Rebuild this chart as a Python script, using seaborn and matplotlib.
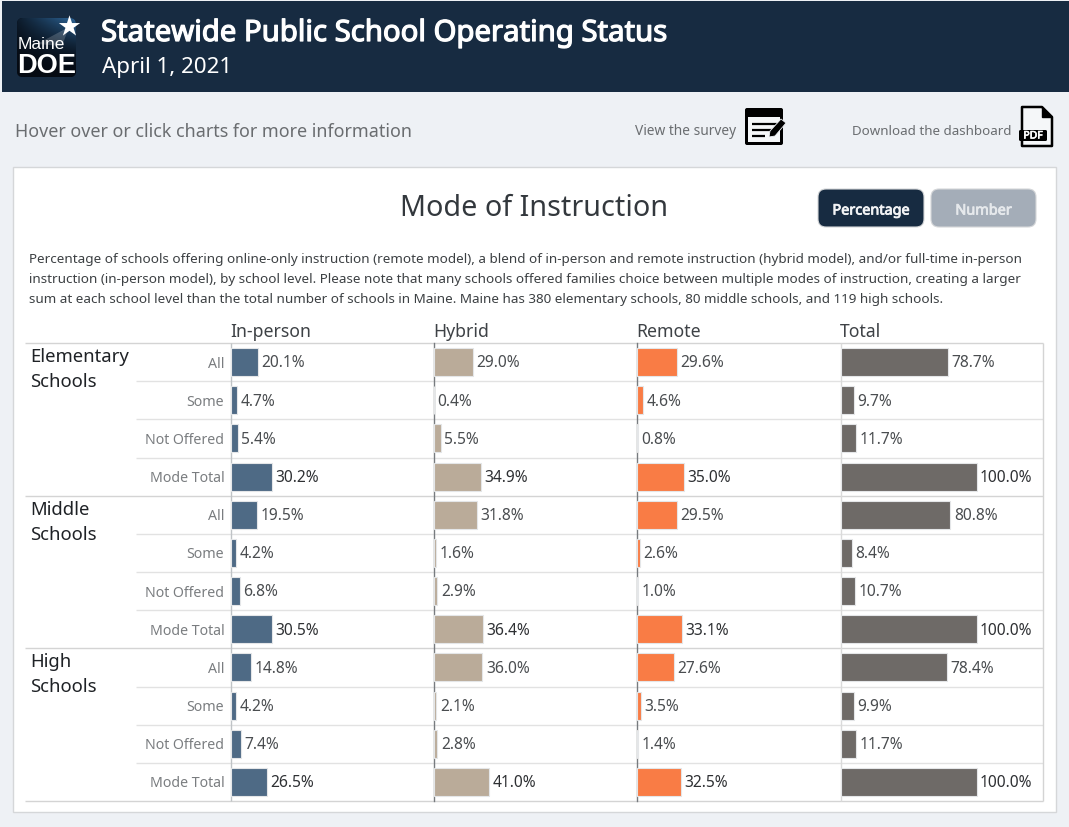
import numpy as np
import pandas as pd
import matplotlib
matplotlib.use("Agg")
import matplotlib.pyplot as plt
from matplotlib.patches import FancyBboxPatch, Rectangle, Polygon
import matplotlib.patheffects as pe
import seaborn as sns

# Data
schools = ["Elementary Schools", "Middle Schools", "High Schools"]
statuses = ["All", "Some", "Not Offered", "Mode Total"]
in_person = [20.1, 4.7, 5.4, 30.2, 19.5, 4.2, 6.8, 30.5, 14.8, 4.2, 7.4, 26.5]
hybrid = [29.0, 0.4, 5.5, 34.9, 31.8, 1.6, 2.9, 36.4, 36.0, 2.1, 2.8, 41.0]
remote = [29.6, 4.6, 0.8, 35.0, 29.5, 2.6, 1.0, 33.1, 27.6, 3.5, 1.4, 32.5]
total = [78.7, 9.7, 11.7, 100.0, 80.8, 8.4, 10.7, 100.0, 78.4, 9.9, 11.7, 100.0]
modes = ["In-person", "Hybrid", "Remote", "Total"]
mode_values = [in_person, hybrid, remote, total]
mode_colors = ["#4E6A85", "#BAAB99", "#F97C45", "#6E6A67"]

W, H = 1069, 827
FONT = "Noto Sans"

sns.set_theme(style="white")
plt.rcParams["font.family"] = [FONT, "DejaVu Sans"]

rows = [f"{s}|{t}" for s in schools for t in statuses]
df = pd.DataFrame({
    "row": rows * 4,
    "mode": np.repeat(modes, 12),
    "value": sum(mode_values, []),
})

fig = plt.figure(figsize=(W / 100, H / 100), dpi=100, facecolor="#EEF1F5")

# Fond en coordonnees pixels
bg = fig.add_axes([0, 0, 1, 1], zorder=0)
bg.set_xlim(0, W)
bg.set_ylim(H, 0)
bg.axis("off")


def rrect(x0, y0, x1, y1, r, **kw):
    p = FancyBboxPatch((x0 + r, y0 + r), x1 - x0 - 2 * r, y1 - y0 - 2 * r,
                       boxstyle=f"round,pad={r},rounding_size={r}", **kw)
    bg.add_patch(p)
    return p


def line(x0, x1, y0, y1, color="#D4D4D4", lw=1.0, z=2):
    bg.plot([x0, x1], [y0, y1], color=color, lw=lw, zorder=z, solid_capstyle="butt")


def bold(t, w=0.7):
    # la police installee n'a pas de vraie graisse ici
    t.set_path_effects([pe.withStroke(linewidth=w, foreground=t.get_color())])
    return t


# Bandeau
bg.add_patch(Rectangle((2, 1), W - 2, 90.5, fc="#172B41", ec="none"))
bold(bg.text(101, 33.5, "Statewide Public School Operating Status", color="white", fontsize=21.1,
             va="center", ha="left"), 0.9)
bg.text(102, 67, "April 1, 2021", color="white", fontsize=16.1, va="center", ha="left")

# Logo
clip = rrect(17, 18, 76, 77, 6, fc="#050A12", ec="none")
grad = np.linspace(0, 1, 60).reshape(-1, 1)[::-1] ** 2
img = bg.imshow(grad @ np.ones((1, 60)) * np.linspace(0.2, 1, 60), extent=(17, 76, 77, 18),
                cmap=matplotlib.colors.LinearSegmentedColormap.from_list("l", ["#050A12", "#2D6496"]),
                aspect="auto", zorder=1.5)
img.set_clip_path(clip)
bg.add_patch(Polygon([[69, 27], [37, 44], [62, 46]], fc="white", alpha=0.18, ec="none", zorder=1.6))
bg.scatter([69], [26], marker="*", s=260, color="white", linewidths=0, zorder=3)
bg.text(18, 44.5, "Maine", color="white", fontsize=12.5, va="center", ha="left", family="Liberation Sans", zorder=3)
bg.text(17.5, 66, "DOE", color="white", fontsize=19.5, fontweight="bold", va="center", ha="left",
        family="Liberation Sans", zorder=3)
bg.set_xlim(0, W)
bg.set_ylim(H, 0)

# Ligne d'aide et liens
bg.text(15, 132, "Hover over or click charts for more information", color="#6A6D70",
        fontsize=12.9, va="center", ha="left")
bg.text(635, 131.3, "View the survey", color="#6A6D70", fontsize=9.9, va="center", ha="left")
bg.text(852, 131.3, "Download the dashboard", color="#6A6D70", fontsize=9.6, va="center", ha="left")

# Icone sondage
rrect(745, 108, 783, 145, 2, fc="black", ec="none")
bg.add_patch(Rectangle((748, 117), 32, 25, fc="#F5F7F9", ec="none"))
for yy, x1 in [(124, 777), (130, 772), (136, 765)]:
    line(752, x1, yy, yy, color="black", lw=1.6, z=3)
bg.add_patch(Polygon([[769, 137], [770, 131], [781, 119], [786, 123], [775, 136]], fc="black", ec="#EEF1F5",
                     lw=0.6, zorder=4))

# Icone PDF
bg.add_patch(Polygon([[1022, 107], [1042, 107], [1052, 117], [1052, 146], [1022, 146]], fc="#F5F7F9", ec="black",
                     lw=1.8, joinstyle="round", zorder=2))
bg.add_patch(Polygon([[1042, 107], [1042, 117], [1052, 117]], fc="black", ec="black", zorder=3))
rrect(1019, 130, 1047, 141, 1.5, fc="black", ec="none", zorder=3)
bold(bg.text(1033, 136, "PDF", color="white", fontsize=7.5, ha="center", va="center", zorder=4), 0.5)

# Carte blanche
bg.add_patch(Rectangle((13, 167), 1043, 645, fc="white", ec="#D5D7D9", lw=1.0))
bg.text(534.5, 208, "Mode of Instruction", color="#33383D", fontsize=20.7, ha="center", va="center")

rrect(818, 189, 924, 227, 8, fc="#172B41", ec="#D5D7D9", lw=0.8)
bold(bg.text(871, 211, "Percentage", color="#F2F3F5", fontsize=10.4, ha="center", va="center"), 0.6)
rrect(931, 189, 1036, 227, 8, fc="#A4ADB8", ec="#D5D7D9", lw=0.8)
bold(bg.text(983.5, 211, "Number", color="#E6E9EC", fontsize=10.4, ha="center", va="center"), 0.6)

desc = [
    "Percentage of schools offering online-only instruction (remote model), a blend of in-person and remote instruction (hybrid model), and/or full-time in-person",
    "instruction (in-person model), by school level. Please note that many schools offered families choice between multiple modes of instruction, creating a larger",
    "sum at each school level than the total number of schools in Maine. Maine has 380 elementary schools, 80 middle schools, and 119 high schools.",
]
for i, txt in enumerate(desc):
    bg.text(29, 260 + i * 20, txt, color="#3C4043", fontsize=9.71, va="center", ha="left")

# Grille du tableau
top, bottom = 343, 801
row_h = (bottom - top) / 12
line(25, 1043, top, top)
line(25, 1043, bottom, bottom)
for i in range(1, 12):
    y = top + i * row_h
    line(25 if i % 4 == 0 else 136, 1043, y, y, color="#D4D4D4" if i % 4 == 0 else "#E2E2E2")
line(1043, 1043, top, bottom)
line(841, 841, top, bottom, color="#DADADA")
line(231, 231, top, bottom, color="#BFC3C6")

for i, s in enumerate(schools):
    a, b = s.split(" ")
    y0 = top + i * 4 * row_h
    bg.text(30, y0 + 14, a, color="#1F2226", fontsize=13.3, va="center", ha="left")
    bg.text(30, y0 + 39, b, color="#1F2226", fontsize=13.3, va="center", ha="left")

# Barres
lefts = [231, 434, 637, 841]
px_per_pct = 1.36
panel_w = 202
for i, mode in enumerate(modes):
    ax = fig.add_axes([(lefts[i] - 0.5) / W, 1 - bottom / H, panel_w / W, (bottom - top) / H], zorder=1)
    ax.patch.set_alpha(0)
    sub = df[df["mode"] == mode]
    sns.barplot(data=sub, y="row", x="value", order=rows, orient="h", color=mode_colors[i],
                saturation=1, width=0.73, edgecolor="#E4E6E8", linewidth=0.8, ax=ax)
    ax.set_xlim(0, panel_w / px_per_pct)
    ax.set_ylim(11.5, -0.5)
    ax.set_xlabel("")
    ax.set_ylabel("")
    ax.set_xticks([])
    for side in ["top", "right", "bottom"]:
        ax.spines[side].set_visible(False)
    ax.spines["left"].set_visible(i in (1, 2))
    ax.spines["left"].set_color("#777B7F")
    ax.spines["left"].set_linewidth(1.0)
    ax.spines["left"].set_zorder(0.5)
    if i == 0:
        ax.set_yticks(range(12))
        ax.set_yticklabels(statuses * 3, color="#7A7D80", fontsize=10.2)
        ax.tick_params(axis="y", length=0, pad=4.5)
    else:
        ax.set_yticks([])
    labels = ax.bar_label(ax.containers[0], fmt="%.1f%%", padding=2.5, fontsize=11.2, color="#4A4D50")
    for j, lab in enumerate(labels):
        lab.xyann = (lab.xyann[0], -1)
        if j % 4 == 3:
            lab.set_color("#2E3033")
    bg.text(lefts[i] - 1, 332, mode, color="#3E4246", fontsize=12.7, va="center", ha="left")

fig.savefig("out.png", dpi=100, facecolor=fig.get_facecolor())
